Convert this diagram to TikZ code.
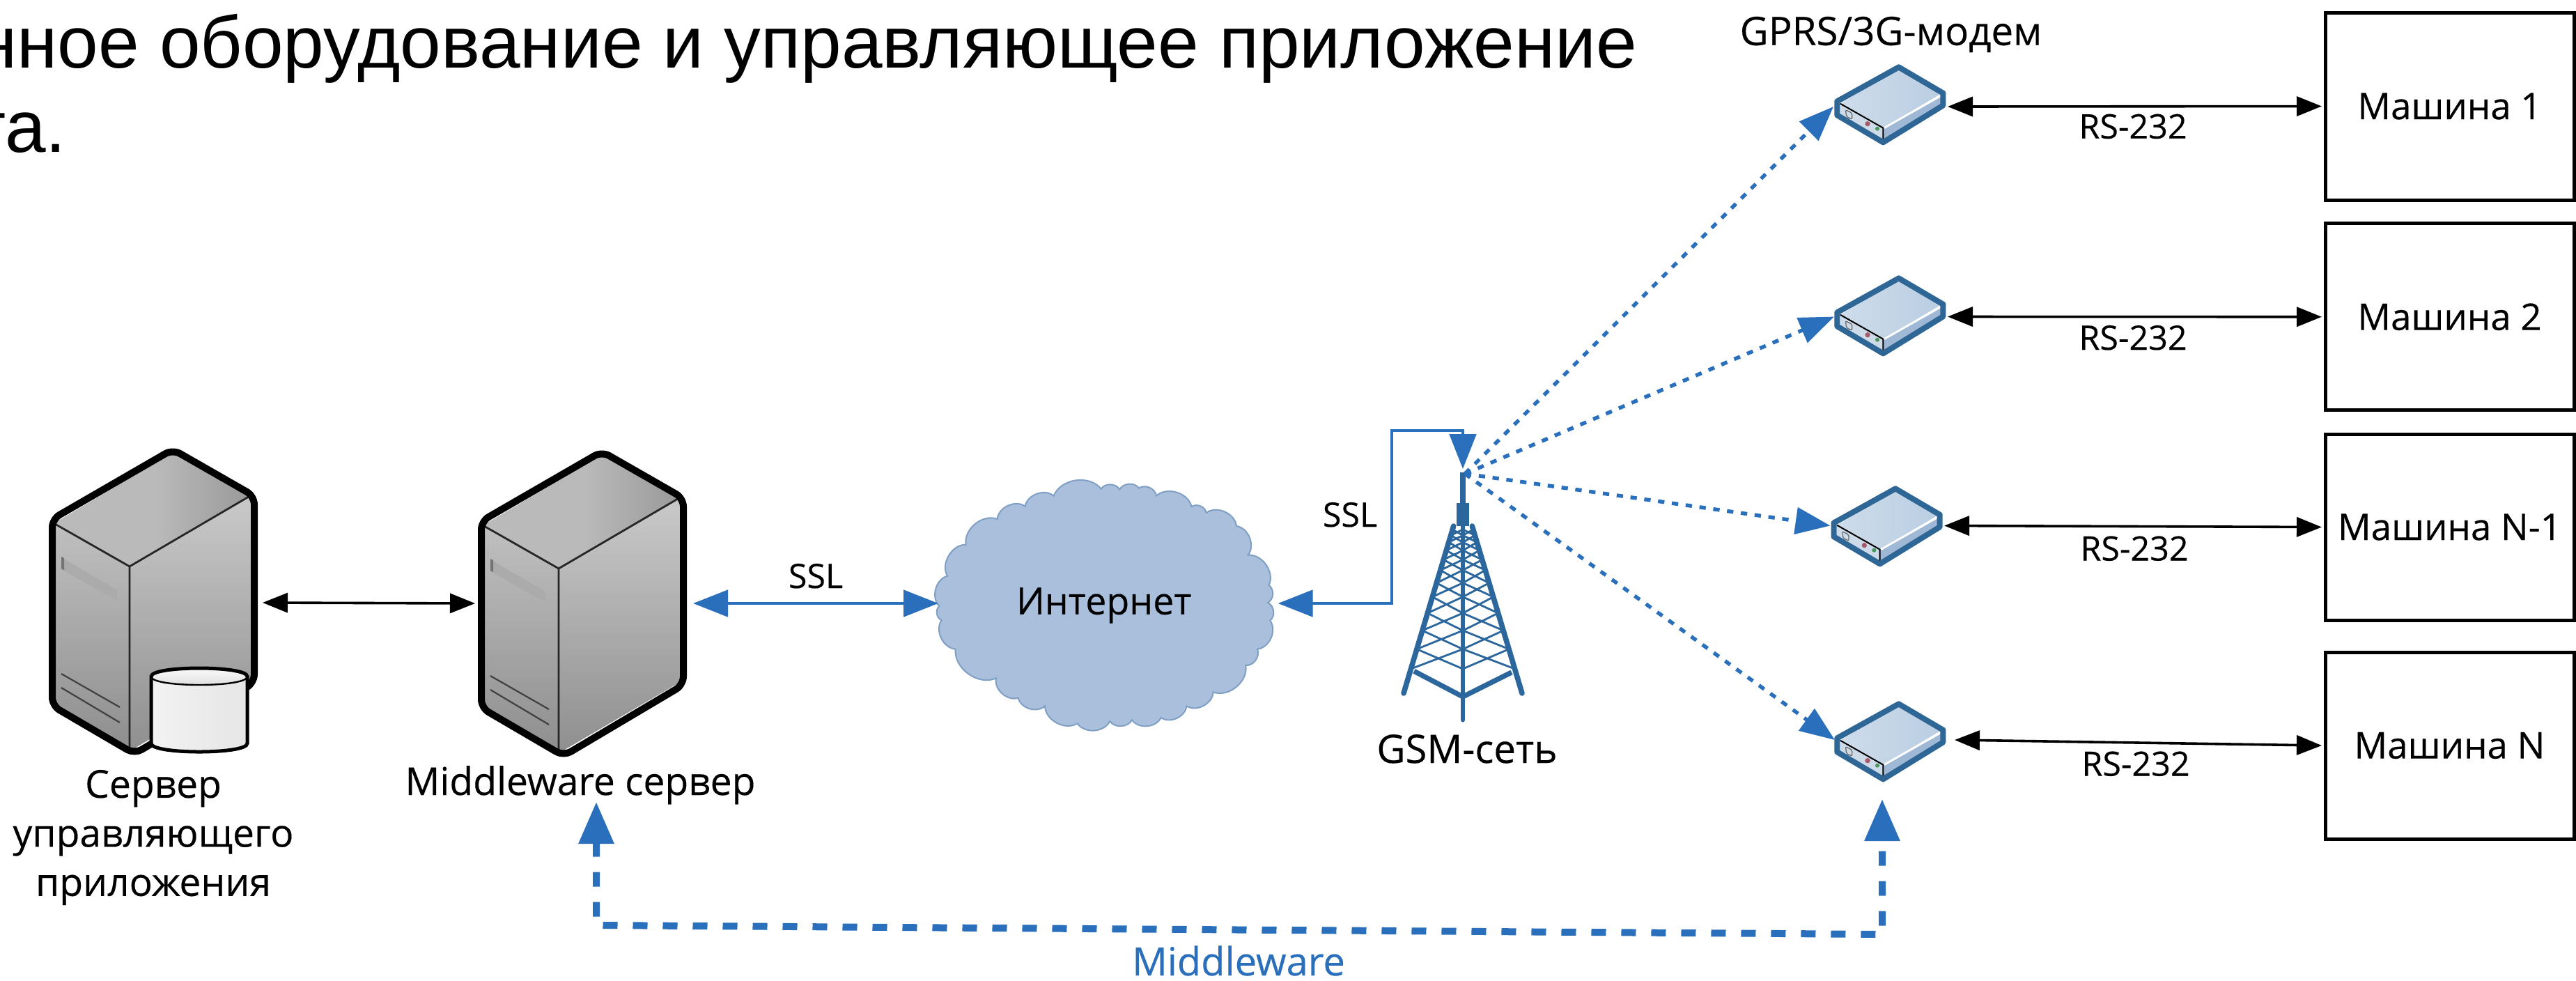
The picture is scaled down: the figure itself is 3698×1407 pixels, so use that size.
\documentclass[tikz,border=0pt]{standalone}
\usepackage{fontspec}
\setmainfont[FakeBold=0.25]{Open Sans}
\newfontfamily\headfont{Liberation Sans}
\usetikzlibrary{arrows.meta,calc}
\definecolor{bluelink}{HTML}{2A6FBB}
\definecolor{towerblue}{HTML}{2B669C}
\definecolor{cloudfill}{HTML}{A9BFDB}
\definecolor{cloudedge}{HTML}{7F9FC4}
\definecolor{modemedge}{HTML}{2E6695}
\tikzset{
  hit/.style={inner sep=0pt,outer sep=0pt,draw=none,fill=none},
  machine/.style={draw=black,line width=1.25pt,fill=white,inner sep=0pt,outer sep=1.25pt,minimum width=89.25pt,font=\fontsize{13.2}{15}\selectfont},
  lab/.style={inner sep=0pt,outer sep=0pt,anchor=base,font=\fontsize{12.1}{14}\selectfont},
  netlab/.style={inner sep=0pt,outer sep=0pt,anchor=base,font=\fontsize{13.4}{15}\selectfont},
  wide/.style={inner sep=0pt,outer sep=0pt,anchor=base,font=\fontsize{14.1}{16}\selectfont},
  biglab/.style={inner sep=0pt,outer sep=0pt,align=center,font=\fontsize{13.8}{17.6}\selectfont},
  headtext/.style={inner sep=0pt,outer sep=0pt,anchor=base east,font=\headfont\fontsize{26.35}{30}\selectfont},
  blackarrow/.style={draw=black,line width=0.9pt,{Triangle[length=9pt,width=7pt]}-{Triangle[length=9pt,width=7pt]}},
  bluearrow/.style={draw=bluelink,line width=1.2pt,color=bluelink,{Triangle[length=12.5pt,width=9.5pt]}-{Triangle[length=12.5pt,width=9.5pt]}},
  dotarrow/.style={draw=bluelink,color=bluelink,line width=1.35pt,dash pattern=on 2.3pt off 2.7pt,-{Triangle[length=12.5pt,width=9.5pt]}},
  dasharrow/.style={draw=bluelink,color=bluelink,line width=2.5pt,dash pattern=on 5.25pt off 5.5pt,{Triangle[length=15pt,width=12.2pt]}-{Triangle[length=15pt,width=12.2pt]}},
  server/.pic={
    \path[top color=black!25,bottom color=black!44] (79,752) -- (186,813) -- (186,1073) -- (79,1013) -- cycle;
    \path[shading=axis,shading angle=20,top color=black!21,bottom color=black!44] (186,813) -- (362,710) -- (362,975) -- (186,1078) -- cycle;
    \path[left color=black!27,right color=black!40,middle color=black!27] (79,750) -- (248,650) -- (362,710) -- (186,813) -- cycle;
    \fill[black!33] (88,800) -- (168,847) -- (168,862) -- (88,817) -- cycle;
    \fill[black!55] (88,799) -- (92,801) -- (92,818) -- (88,816) -- cycle;
    \draw[black!75,line width=0.55pt] (88,967) -- (172,1015) (88,987) -- (172,1037);
    \draw[black!85,line width=0.7pt] (79,752) -- (186,813) -- (362,710) (186,813) -- (186,1073);
    \draw[black,line width=2.5pt,rounded corners=3pt,line join=round] (248,645) -- (365,712) -- (365,980) -- (193,1082) -- (75,1013) -- (75,745) -- cycle;
  },
  modem/.pic={
    \begin{scope}[x=0.08333pt,y=-0.08333pt,shift={(-437,-35)}]
      \path[shading=axis,shading angle=60,left color={rgb,255:red,206;green,220;blue,235},right color={rgb,255:red,186;green,206;blue,226}] (437,55) -- (615,165) -- (370,310) -- (185,205) -- cycle;
      \fill[fill={rgb,255:red,158;green,184;blue,214}] (370,310) -- (620,170) -- (620,215) -- (370,365) -- cycle;
      \fill[fill={rgb,255:red,205;green,218;blue,232}] (185,205) -- (370,310) -- (370,362) -- (185,255) -- cycle;
      \draw[white,line width=0.7pt] (374,310) -- (618,172);
      \draw[black,line width=0.5pt] (185,205) -- (370,310) -- (370,362);
      \draw[black!60,line width=0.3pt,rounded corners=0.5pt] (208,232) -- (236,246) -- (236,272) -- (212,262) -- cycle;
      \fill[fill={rgb,255:red,165;green,90;blue,105}] (303,292) circle[radius=11];
      \fill[fill={rgb,255:red,75;green,150;blue,95}] (345,313) circle[radius=9];
      \draw[modemedge,line width=2pt,line join=round] (172,195) -- (437,48) -- (628,160) -- (628,213) -- (370,372) -- (172,255) -- cycle;
    \end{scope}
  }
}
\begin{document}
\begin{tikzpicture}[x=0.25pt,y=-0.25pt]
\useasboundingbox[fill=white] (0,0) rectangle (3698,1407);

% heading (cut off by the page on the left, as in the reference)
\node[headtext] (h1) at (2350,97) {нное оборудование и управляющее приложение};
\node[headtext] (h2) at (95,218) {та.};

% servers
\pic at (0,0) {server};
\pic at (616,3) {server};
\path[top color=white,bottom color=black!14] (217,971) .. controls (217,955) and (355,955) .. (355,971) .. controls (355,987) and (217,987) .. (217,971) -- cycle;
\path[left color=white!95!black,right color=black!10] (217,971) -- (217,1067) .. controls (217,1083) and (355,1083) .. (355,1067) -- (355,971) .. controls (355,987) and (217,987) .. (217,971) -- cycle;
\draw[black,line width=1.25pt] (217,971) -- (217,1067) .. controls (217,1083) and (355,1083) .. (355,1067) -- (355,971) .. controls (355,955) and (217,955) .. (217,971) -- cycle;
\draw[black,line width=0.6pt] (217,971) .. controls (217,987) and (355,987) .. (355,971);

\node[hit,minimum width=78.5pt,minimum height=112.5pt] (srvA) at (220,865) {};
\node[hit,minimum width=78.25pt,minimum height=112.5pt] (srvB) at (838.5,866) {};

\node[biglab] (lbA) at (220,1202) {Сервер\\управляющего\\приложения};
\node[biglab,anchor=base] (lbB) at (833,1141) {Middleware сервер};

% cloud
\begin{scope}[shift={(1330,680)},x=0.08333pt,y=-0.08333pt,every to/.style={bend left=60}]
\draw[fill=cloudfill,draw=cloudedge,line width=0.5pt]
 (425,140) to (548,95) to (752,65) to (832,68) to (915,62) to (990,95) to (1142,142) to (1205,168)
 to (1335,225) to (1385,350) to (1475,480) to (1470,555) to (1480,632) to (1425,755) to (1375,825)
 to (1235,940) to (1120,1000) to (1010,1050) to (885,1060) to (790,1065) to (650,1075) to (510,1000)
 to (395,965) to (300,880) to (125,755) to (65,630) to (55,570) to (90,440) to (170,305) to (305,195) to (425,140) -- cycle;
\end{scope}
\node[hit,minimum width=121.9pt,minimum height=88.25pt] (cloud) at (1590.8,866) {};
\node[netlab] (lbC) at (1584.6,881.7) {Интернет};

% tower
\begin{scope}[shift={(1950,590)},x=0.08333pt,y=-0.08333pt]
 \fill[towerblue] (439,265) rectangle (461,395);
 \fill[towerblue] (422,395) rectangle (478,495);
 \draw[towerblue,line width=1.9pt,line cap=round] (410,495) -- (195,1215) (490,495) -- (705,1215);
 \draw[towerblue,line width=1.6pt,line cap=round] (450,495) -- (450,1330);
 \draw[towerblue,line width=1.8pt,line join=round] (240,1120) -- (450,1230) -- (660,1125);
 \foreach \a/\b in {1110/1025,1025/945,945/870,870/800,800/740,740/685,685/640,640/600,600/565,565/535,535/510}{
  \pgfmathsetmacro\da{40+(\a-495)*0.2986}
  \pgfmathsetmacro\db{40+(\b-495)*0.2986}
  \draw[towerblue,line width=0.7pt] ({450-\da},\a) -- (450,\b) ({450-\db},\b) -- (450,\a)
    ({450+\da},\a) -- (450,\b) ({450+\db},\b) -- (450,\a);
 }
\end{scope}
\node[hit,minimum width=47.5pt,minimum height=90pt] (tower) at (2100,853) {};
\coordinate (ant) at (2103,680);
\coordinate (elbow) at (1998,618);
\node[wide] (lbG) at (2106,1095) {GSM-сеть};

% modems
\pic at (2725.7,92) {modem};
\pic at (2725.7,395) {modem};
\pic at (2721,697) {modem};
\pic at (2725.7,1006) {modem};
\node[hit,minimum width=41pt,minimum height=29pt] (m1) at (2714,153) {};
\node[hit,minimum width=40.75pt,minimum height=29pt] (m2) at (2714.5,454.5) {};
\node[hit,minimum width=40.9pt,minimum height=29pt] (m3) at (2709.3,754.5) {};
\node[hit,minimum width=43pt,minimum height=29pt] (m4) at (2720,1062) {};

\node[wide] (lbM) at (2714.6,64.7) {GPRS/3G-модем};

% machines
\node[machine,minimum height=67.25pt] (b1) at (3516.5,152.5) {Машина 1};
\node[machine,minimum height=67.1pt] (b2) at (3516.5,454.75) {Машина 2};
\node[machine,minimum height=66.75pt] (b3) at (3516.5,756.5) {Машина N-1};
\node[machine,minimum height=67pt] (b4) at (3516.5,1070) {Машина N};

% connectors
\draw[blackarrow] (srvA.east) -- (srvB.west);
\draw[bluearrow] (srvB.east) -- (cloud.west);
\draw[bluearrow] (cloud.east) -| (elbow) -| (tower.north);
\draw[dotarrow] (ant) -- (m1.west);
\draw[dotarrow] (ant) -- (m2.west);
\draw[dotarrow] (ant) -- (m3.west);
\draw[dotarrow] (ant) -- (m4.west);
\draw[blackarrow] (m1.east) -- (b1.west);
\draw[blackarrow] (m2.east) -- (b2.west);
\draw[blackarrow] (m3.east) -- (b3.west);
\draw[blackarrow] (m4.east) -- (b4.west);

\coordinate (midL) at (856,1151);
\coordinate (midLc) at (856,1328);
\coordinate (midRc) at (2702,1341);
\coordinate (midR) at (2702,1147);
\draw[dasharrow] (midL) -- (midLc) -- (midRc) -- (midR);

% connector labels
\node[lab] (s1) at (1171,844) {SSL};
\node[lab] (s2) at (1938,756) {SSL};
\node[lab] (r1) at (3062,198.7) {RS-232};
\node[lab] (r2) at (3062,502) {RS-232};
\node[lab] (r3) at (3064,804.5) {RS-232};
\node[lab] (r4) at (3066,1113.5) {RS-232};
\node[inner sep=0pt,outer sep=0pt,anchor=base,text=bluelink,font=\fontsize{14}{16}\selectfont] (mw) at (1778,1400) {Middleware};
\end{tikzpicture}
\end{document}
